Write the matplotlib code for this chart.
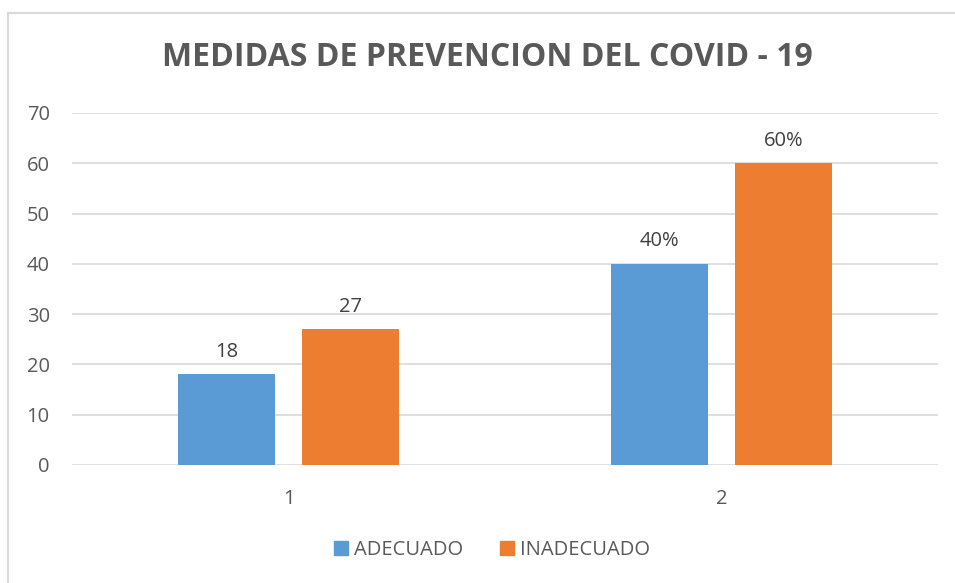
import matplotlib
matplotlib.use("Agg")
import matplotlib.pyplot as plt
import numpy as np
from matplotlib.lines import Line2D
from matplotlib.patches import Patch

categories = ["1", "2"]
series_names = ["ADECUADO", "INADECUADO"]
adecuado = [18, 40]
inadecuado = [27, 60]
adecuado_labels = ["18", "40%"]
inadecuado_labels = ["27", "60%"]
yticks = [0, 10, 20, 30, 40, 50, 60, 70]

blue = "#5B9BD5"
orange = "#ED7D31"
txt = "#595959"

plt.rcParams['font.family'] = ['Open Sans', 'DejaVu Sans']

fig = plt.figure(figsize=(9.55, 5.83), dpi=100)
W, H = 955, 583
ax = fig.add_axes([72 / W, 1 - 465 / H, (938 - 72) / W, (465 - 113) / H])

x = np.arange(len(categories))
bw = 0.224
off = 0.143
b1 = ax.bar(x - off, adecuado, bw, color=blue, zorder=3)
b2 = ax.bar(x + off, inadecuado, bw, color=orange, zorder=3)

for bars, labs in ((b1, adecuado_labels), (b2, inadecuado_labels)):
    for r, lab in zip(bars, labs):
        ax.annotate(lab, (r.get_x() + r.get_width() / 2, r.get_height()),
                    xytext=(0, 9), textcoords="offset points", ha="center", va="bottom",
                    fontsize=14.5, color="#404040")

ax.set_xlim(-0.5, 1.5)
ax.set_ylim(0, 70)
ax.set_yticks(yticks)
ax.set_xticks(x)
ax.set_xticklabels(categories)
ax.yaxis.grid(True, color="#D9D9D9", linewidth=1.2, zorder=0)
ax.set_axisbelow(True)
for s in ax.spines.values():
    s.set_visible(False)
ax.tick_params(axis="both", length=0, labelsize=14.5, labelcolor=txt)
ax.tick_params(axis="y", pad=16)
ax.tick_params(axis="x", pad=17)

fig.text(487 / W, 1 - 58 / H, "MEDIDAS DE PREVENCION DEL COVID - 19", ha="center", va="center",
         fontsize=23, fontweight="bold", color=txt)

handles = [Patch(color=blue, label=series_names[0]), Patch(color=orange, label=series_names[1])]
fig.legend(handles=handles, loc="center", bbox_to_anchor=(492 / W, 1 - 550 / H), ncol=2,
           frameon=False, fontsize=14.5, labelcolor=txt, handlelength=0.7, handleheight=0.7,
           handletextpad=0.3, columnspacing=1.8)

fig.add_artist(Line2D([8 / W, 8 / W], [0, 1 - 13 / H], transform=fig.transFigure, color="#D9D9D9", lw=1.5))
fig.add_artist(Line2D([8 / W, 1], [1 - 13 / H, 1 - 13 / H], transform=fig.transFigure, color="#D9D9D9", lw=1.5))

fig.savefig("out.png", dpi=100)
